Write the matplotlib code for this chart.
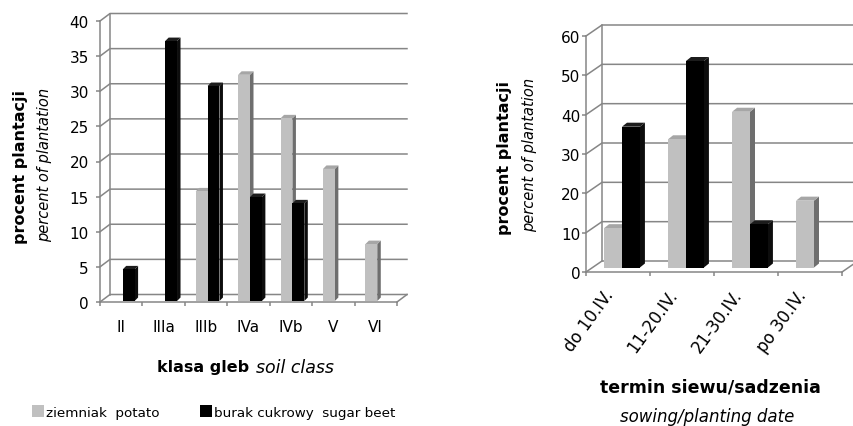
import numpy as np
import matplotlib
matplotlib.use('Agg')
import matplotlib.pyplot as plt
from matplotlib.patches import Polygon, Patch

plt.rcParams['font.family'] = ['DejaVu Sans']

# data
soil_classes = ['II', 'IIIa', 'IIIb', 'IVa', 'IVb', 'V', 'VI']
soil_potato = [0, 0, 15.6, 32.2, 26.0, 18.8, 8.1]
soil_beet = [4.5, 37.0, 30.6, 14.8, 13.9, 0, 0]

dates = ['do 10.IV.', '11-20.IV.', '21-30.IV.', 'po 30.IV.']
date_potato = [10.0, 32.6, 39.6, 17.0]
date_beet = [35.8, 52.5, 11.0, 0]

series_labels = ['ziemniak  potato', 'burak cukrowy  sugar beet']

# colours
GRID = '#868686'
POTATO = ('#c0c0c0', '#6e6e6e', '#a6a6a6')   # front, side, top
BEET = ('#000000', '#0d0d0d', '#1c1c1c')


def draw_panel(ax, cats, potato, beet, ymax, step, wall, shift, depth, width=0.28):
    """Fake Excel 3D column chart; wall/shift/depth are offsets in pixels."""
    n = len(cats)
    ax.set_xlim(-0.5, n - 0.5)
    ax.set_ylim(0, ymax)
    ux = n / ax.bbox.width
    uy = ymax / ax.bbox.height
    wx, wy = wall[0] * ux, wall[1] * uy
    ticks = np.arange(0, ymax + step / 2, step)

    # side wall + back wall gridlines
    for t in ticks:
        ax.plot([-0.5, -0.5 + wx, n - 0.5 + wx], [t, t + wy, t + wy],
                color=GRID, lw=1.1, clip_on=False, zorder=1)
    ax.plot([-0.5 + wx] * 2, [wy, ymax + wy], color=GRID, lw=1.1, clip_on=False, zorder=1)
    ax.plot([n - 0.5, n - 0.5 + wx], [0, wy], color=GRID, lw=1.1, clip_on=False, zorder=1)

    ox, oy = shift[0] * ux, shift[1] * uy
    sx, sy = depth[0] * ux, depth[1] * uy
    for k, (vals, cols) in enumerate([(potato, POTATO), (beet, BEET)]):
        z = 3 + k
        xs = np.arange(n) + (k - 0.5) * width + ox
        bars = ax.bar(xs, vals, width, bottom=oy, color=cols[0], zorder=z, clip_on=False)
        for b, v in zip(bars, vals):
            if v == 0:
                b.set_visible(False)
                continue
            x0, x1 = b.get_x(), b.get_x() + b.get_width()
            y0, y1 = b.get_y(), b.get_y() + b.get_height()
            ax.add_patch(Polygon([(x1, y0), (x1 + sx, y0 + sy), (x1 + sx, y1 + sy), (x1, y1)],
                                 closed=True, fc=cols[1], ec='none', zorder=z - 0.1, clip_on=False))
            ax.add_patch(Polygon([(x0, y1), (x1, y1), (x1 + sx, y1 + sy), (x0 + sx, y1 + sy)],
                                 closed=True, fc=cols[2], ec='none', zorder=z - 0.1, clip_on=False))

    for s in ['top', 'right']:
        ax.spines[s].set_visible(False)
    for s in ['left', 'bottom']:
        ax.spines[s].set_color(GRID)
        ax.spines[s].set_linewidth(1.1)
    ax.set_facecolor('none')
    ax.set_yticks(ticks)
    ax.set_xticks(np.arange(-0.5, n))
    ax.set_xticklabels([])
    ax.tick_params(axis='both', which='major', direction='out', length=3, color=GRID, width=1.1)
    ax.tick_params(axis='x', which='minor', length=0)


fig = plt.figure(figsize=(8.54, 4.27), dpi=100)

# left panel: soil class
ax1 = fig.add_axes([100 / 854, 1 - 303 / 427, 297 / 854, 281 / 427])
draw_panel(ax1, soil_classes, soil_potato, soil_beet, 40, 5,
           wall=(10, 7.5), shift=(1.5, 1), depth=(3.5, 3.5))
ax1.set_xticks(np.arange(len(soil_classes)), minor=True)
ax1.set_xticklabels(soil_classes, minor=True, fontsize=11)
ax1.tick_params(axis='x', which='minor', pad=12)
ax1.tick_params(axis='y', labelsize=11, pad=5)

# right panel: sowing date (labels sit a little left of the category centre)
ax2 = fig.add_axes([586 / 854, 1 - 273 / 427, 256 / 854, 236 / 427])
draw_panel(ax2, dates, date_potato, date_beet, 60, 10,
           wall=(16, 11), shift=(4, 4.5), depth=(5, 4))
ax2.set_xticks(np.arange(len(dates)) - 0.12, minor=True)
ax2.set_xticklabels(dates, minor=True, fontsize=12, rotation=54,
                    ha='right', va='center', rotation_mode='anchor')
ax2.tick_params(axis='x', which='minor', pad=14)
ax2.tick_params(axis='y', labelsize=11, pad=1)

# axis titles
fig.text(21 / 854, 1 - 167 / 427, 'procent plantacji', rotation=90, fontsize=11.5,
         fontweight='bold', ha='center', va='center')
fig.text(45 / 854, 1 - 165 / 427, 'percent of plantation', rotation=90, fontsize=10.5,
         style='italic', ha='center', va='center')
fig.text(249 / 854, 1 - 368 / 427, 'klasa gleb', fontsize=11.5, fontweight='bold',
         ha='right', va='center')
fig.text(256 / 854, 1 - 368 / 427, 'soil class', fontsize=12.5, style='italic',
         ha='left', va='center')

fig.text(505 / 854, 1 - 158 / 427, 'procent plantacji', rotation=90, fontsize=11.5,
         fontweight='bold', ha='center', va='center')
fig.text(530 / 854, 1 - 155 / 427, 'percent of plantation', rotation=90, fontsize=10.5,
         style='italic', ha='center', va='center')
fig.text(710 / 854, 1 - 388 / 427, 'termin siewu/sadzenia', fontsize=12.5,
         fontweight='bold', ha='center', va='center')
fig.text(707 / 854, 1 - 417 / 427, 'sowing/planting date', fontsize=12,
         style='italic', ha='center', va='center')

handles = [Patch(fc=POTATO[0], ec='none'), Patch(fc=BEET[0], ec='none')]
fig.legend(handles, series_labels, loc='center left', ncol=2, frameon=False,
           bbox_to_anchor=(20 / 854, 1 - 413 / 427), fontsize=9.7,
           handlelength=0.9, handleheight=0.9, handletextpad=0.15, columnspacing=3.0)

fig.savefig('out.png', dpi=100)
